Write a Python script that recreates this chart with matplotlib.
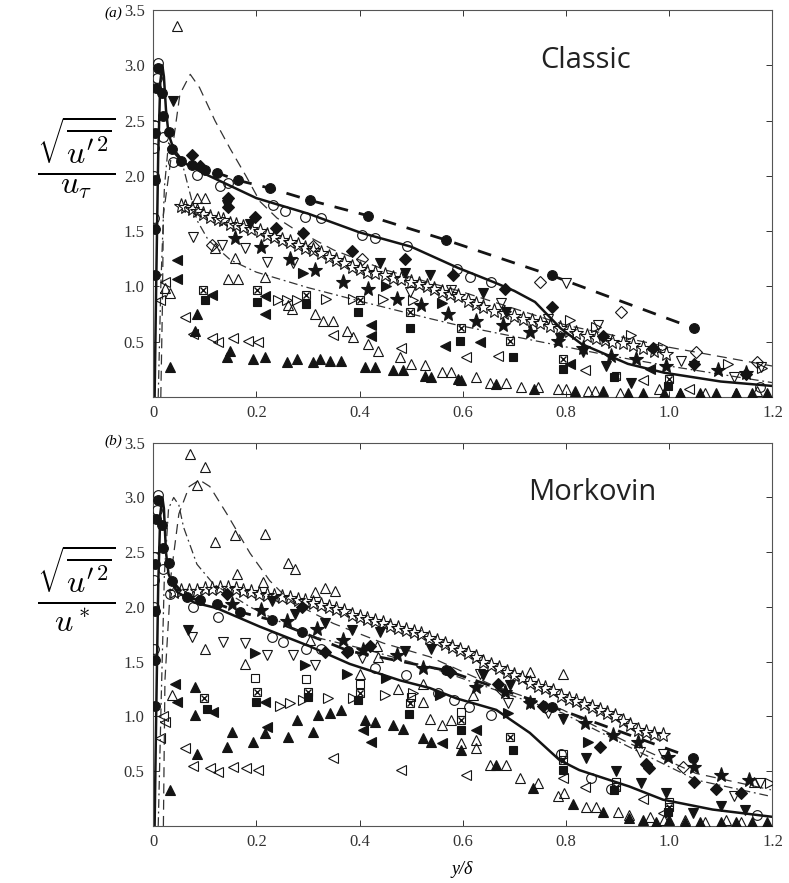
import matplotlib
matplotlib.use("Agg")
import matplotlib.pyplot as plt

# ─────────────────────────────────────────────
# DATA  ((x, y) = (y/delta, rms value))
# ─────────────────────────────────────────────
# panel (a) - classic scaling
A_SOLID = ([0.003, 0.006, 0.010, 0.014, 0.018, 0.021, 0.025, 0.030, 0.040, 0.060, 0.10, 0.15, 0.20, 0.30,
            0.40, 0.50, 0.59, 0.665, 0.70, 0.74, 0.79, 0.83, 0.87, 0.92, 0.99, 1.10, 1.20],
           [0.0, 1.0, 2.2, 2.85, 3.0, 2.9, 2.6, 2.38, 2.24, 2.12, 2.02, 1.91, 1.80, 1.66,
            1.49, 1.36, 1.17, 1.03, 0.96, 0.86, 0.62, 0.48, 0.40, 0.30, 0.22, 0.14, 0.10])
A_THICK_DASH = ([0.036, 0.055, 0.075, 0.101, 0.123, 0.165, 0.226, 0.304, 0.417, 0.568, 0.772, 1.049],
                [2.24, 2.14, 2.10, 2.05, 2.03, 1.96, 1.89, 1.78, 1.64, 1.42, 1.10, 0.62])
A_THIN_DASH = ([0.015, 0.018, 0.020, 0.033, 0.052, 0.072, 0.09, 0.12, 0.149, 0.18, 0.207, 0.24, 0.27,
                0.35, 0.45, 0.60, 0.80, 1.00, 1.20],
               [0.0, 0.8, 1.65, 2.1, 2.74, 2.92, 2.8, 2.5, 2.25, 2.0, 1.77, 1.62, 1.53,
                1.33, 1.15, 0.95, 0.65, 0.45, 0.28])
A_DASHDOT = ([0.010, 0.015, 0.022, 0.030, 0.045, 0.059, 0.085, 0.107, 0.15, 0.20, 0.30, 0.407, 0.536,
              0.59, 0.75, 0.884, 1.00, 1.20],
             [0.0, 1.0, 1.9, 2.3, 2.2, 2.07, 1.6, 1.42, 1.24, 1.13, 0.99, 0.86, 0.71,
              0.65, 0.50, 0.375, 0.28, 0.13])

A_FCIRC = ([0.003, 0.003, 0.003, 0.004, 0.006, 0.010, 0.017, 0.020, 0.030, 0.036, 0.055, 0.075, 0.101,
            0.123, 0.165, 0.226, 0.304, 0.417, 0.568, 0.772, 1.049],
           [1.10, 1.52, 1.96, 2.39, 2.80, 2.98, 2.75, 2.54, 2.40, 2.24, 2.14, 2.10, 2.05,
            2.03, 1.96, 1.89, 1.78, 1.64, 1.42, 1.10, 0.62])
A_OCIRC = ([0.001, 0.001, 0.001, 0.002, 0.007, 0.010, 0.020, 0.039, 0.085, 0.13, 0.146, 0.233, 0.256,
            0.294, 0.326, 0.404, 0.43, 0.492, 0.588, 0.614, 0.655, 1.175],
           [1.62, 2.0, 2.25, 2.46, 2.89, 3.02, 2.35, 2.13, 2.01, 1.91, 1.94, 1.74, 1.68,
            1.63, 1.62, 1.47, 1.44, 1.37, 1.16, 1.09, 1.04, 0.09])
A_OSTAR = ([0.055, 0.062, 0.075, 0.085, 0.097, 0.11, 0.125, 0.135, 0.149, 0.16, 0.175, 0.19, 0.207, 0.22,
            0.235, 0.25, 0.265, 0.28, 0.295, 0.31, 0.325, 0.34, 0.355, 0.37, 0.385, 0.40, 0.415, 0.43,
            0.45, 0.465, 0.48, 0.50, 0.515, 0.53, 0.545, 0.56, 0.575, 0.59, 0.61, 0.625, 0.64, 0.66,
            0.68, 0.70, 0.717, 0.735, 0.75, 0.77, 0.788, 0.805, 0.82, 0.84, 0.859, 0.875, 0.89, 0.91,
            0.93, 0.95, 0.97, 0.994],
           [1.73, 1.72, 1.70, 1.68, 1.66, 1.63, 1.61, 1.60, 1.57, 1.56, 1.54, 1.52, 1.50, 1.47,
            1.45, 1.42, 1.40, 1.38, 1.35, 1.33, 1.30, 1.27, 1.24, 1.21, 1.18, 1.16, 1.13, 1.12,
            1.10, 1.08, 1.07, 1.04, 1.02, 1.00, 0.98, 0.95, 0.93, 0.91, 0.87, 0.84, 0.81, 0.78,
            0.76, 0.73, 0.71, 0.69, 0.67, 0.64, 0.62, 0.60, 0.58, 0.55, 0.53, 0.52, 0.50, 0.49,
            0.47, 0.44, 0.42, 0.39])
A_FSTAR = ([0.159, 0.21, 0.265, 0.314, 0.368, 0.417, 0.472, 0.52, 0.572, 0.626, 0.678, 0.73, 0.784,
            0.833, 0.888, 0.936, 0.994, 1.094, 1.149],
           [1.44, 1.36, 1.25, 1.15, 1.04, 0.98, 0.89, 0.83, 0.755, 0.69, 0.65, 0.59, 0.51,
            0.44, 0.375, 0.345, 0.285, 0.24, 0.22])
A_FDIAM = ([0.075, 0.091, 0.146, 0.146, 0.197, 0.239, 0.291, 0.385, 0.488, 0.581, 0.681, 0.772, 0.872,
            0.968, 1.049, 1.149],
           [2.19, 2.09, 1.80, 1.72, 1.63, 1.53, 1.48, 1.32, 1.25, 1.10, 0.98, 0.815, 0.55,
            0.44, 0.30, 0.21])
A_ODIAM = ([0.114, 0.31, 0.404, 0.749, 0.907, 1.052, 1.171],
           [1.38, 1.37, 1.25, 1.04, 0.77, 0.41, 0.32])
A_FDOWN = ([0.039, 0.143, 0.188, 0.44, 0.488, 0.536, 0.639, 0.684, 0.788, 0.833, 0.878, 0.926, 1.049],
           [2.68, 1.74, 1.57, 1.21, 1.12, 1.10, 0.94, 0.77, 0.53, 0.41, 0.285, 0.13, 0.28])
A_ODOWN = ([0.078, 0.133, 0.178, 0.22, 0.271, 0.497, 0.578, 0.675, 0.765, 0.80, 0.862, 1.023, 1.126, 1.178],
           [1.45, 1.375, 1.35, 1.22, 1.21, 0.95, 0.97, 0.85, 0.71, 1.03, 0.65, 0.33, 0.18, 0.27])
A_ORIGHT = ([0.243, 0.26, 0.278, 0.336, 0.388, 0.446, 0.504, 0.807, 0.859, 0.926, 0.988, 1.113, 1.18],
            [0.875, 0.88, 0.875, 0.89, 0.89, 0.89, 0.88, 0.70, 0.63, 0.56, 0.45, 0.30, 0.26])
A_FRIGHT = ([0.291, 0.452, 0.559],
            [1.12, 1.00, 0.85])
A_FLEFT = ([0.046, 0.046, 0.114, 0.217, 0.217, 0.423, 0.423, 0.565, 0.633, 0.807, 0.962],
           [1.24, 1.07, 0.92, 0.91, 0.755, 0.65, 0.55, 0.465, 0.50, 0.30, 0.25])
A_OLEFT = ([0.014, 0.023, 0.062, 0.078, 0.114, 0.126, 0.155, 0.184, 0.204, 0.349, 0.481, 0.607, 0.668,
            0.836, 0.949, 1.039],
           [0.875, 1.04, 0.72, 0.57, 0.53, 0.50, 0.53, 0.51, 0.50, 0.56, 0.44, 0.36, 0.375,
            0.24, 0.15, 0.07])
A_OUP = ([0.046, 0.085, 0.10, 0.12, 0.159, 0.146, 0.165, 0.217, 0.023, 0.033, 0.262, 0.27, 0.314, 0.33,
          0.349, 0.375, 0.388, 0.417, 0.436, 0.478, 0.50, 0.526, 0.559, 0.578, 0.626, 0.652, 0.684, 0.713,
          0.745, 0.784, 0.80, 0.842, 0.857, 0.904, 0.98, 1.02, 1.07, 1.13, 1.17],
         [3.36, 1.80, 1.80, 1.35, 1.26, 1.07, 1.07, 1.09, 0.99, 0.945, 0.83, 0.80, 0.755, 0.69,
          0.69, 0.60, 0.54, 0.48, 0.42, 0.36, 0.30, 0.29, 0.23, 0.23, 0.18, 0.13, 0.13, 0.09,
          0.09, 0.07, 0.07, 0.05, 0.05, 0.04, 0.07, 0.04, 0.04, 0.04, 0.05])
A_FUP = ([0.033, 0.085, 0.081, 0.149, 0.143, 0.194, 0.217, 0.259, 0.278, 0.31, 0.323, 0.343, 0.365, 0.41,
          0.43, 0.465, 0.484, 0.526, 0.539, 0.591, 0.597, 0.665, 0.739, 0.817, 0.872, 0.92, 0.95, 0.99,
          1.02, 1.06, 1.09, 1.13, 1.16, 1.19],
         [0.27, 0.755, 0.60, 0.42, 0.36, 0.345, 0.36, 0.315, 0.345, 0.315, 0.345, 0.33, 0.33, 0.27,
          0.27, 0.24, 0.24, 0.19, 0.18, 0.165, 0.15, 0.12, 0.07, 0.05, 0.05, 0.04, 0.04, 0.04,
          0.04, 0.04, 0.04, 0.04, 0.04, 0.04])
A_FSQ = ([0.10, 0.201, 0.297, 0.397, 0.497, 0.594, 0.697, 0.794, 0.894, 0.997],
         [0.875, 0.86, 0.845, 0.77, 0.625, 0.505, 0.36, 0.255, 0.18, 0.10])
A_XSQ = ([0.097, 0.201, 0.297, 0.401, 0.497, 0.597, 0.691, 0.794, 0.896, 0.999],
         [0.965, 0.965, 0.92, 0.875, 0.77, 0.62, 0.51, 0.345, 0.19, 0.165])

# panel (b) - Morkovin scaling
B_SOLID = ([0.003, 0.006, 0.010, 0.014, 0.018, 0.021, 0.025, 0.030, 0.046, 0.08, 0.123, 0.207, 0.304,
            0.381, 0.478, 0.536, 0.588, 0.665, 0.73, 0.788, 0.826, 0.923, 0.988, 1.084, 1.197],
           [0.0, 1.0, 2.2, 2.85, 3.0, 2.9, 2.5, 2.3, 2.14, 2.04, 1.99, 1.82, 1.64,
            1.48, 1.33, 1.26, 1.165, 1.06, 0.85, 0.60, 0.51, 0.36, 0.24, 0.15, 0.085])
B_THICK_DASH = ([0.036, 0.065, 0.091, 0.123, 0.168, 0.23, 0.288, 0.378, 0.568, 0.772, 1.046],
                [2.24, 2.09, 2.06, 2.03, 1.955, 1.88, 1.77, 1.60, 1.42, 1.09, 0.62])
B_THIN_DASH = ([0.020, 0.023, 0.035, 0.050, 0.070, 0.090, 0.110, 0.143, 0.188, 0.226, 0.26, 0.30, 0.349,
                0.446, 0.536, 0.665, 0.794, 0.923, 1.052, 1.197],
               [0.0, 1.33, 2.3, 2.85, 3.10, 3.16, 3.10, 2.85, 2.49, 2.24, 2.08, 1.97, 1.85,
                1.67, 1.545, 1.27, 1.06, 0.755, 0.48, 0.33])
B_DASHDOT = ([0.010, 0.016, 0.022, 0.030, 0.040, 0.050, 0.059, 0.085, 0.117, 0.188, 0.30, 0.414, 0.542,
              0.665, 0.794, 0.923, 1.052, 1.197],
             [0.0, 1.2, 2.3, 2.9, 3.0, 2.93, 2.73, 2.39, 2.21, 2.0, 1.74, 1.61, 1.44,
              1.24, 1.03, 0.72, 0.42, 0.27])

B_FCIRC = ([0.003, 0.003, 0.003, 0.004, 0.006, 0.010, 0.017, 0.020, 0.030, 0.036, 0.065, 0.091, 0.123,
            0.168, 0.23, 0.288, 0.378, 0.568, 0.772, 1.046],
           [1.10, 1.52, 1.96, 2.39, 2.80, 2.98, 2.75, 2.54, 2.40, 2.24, 2.09, 2.06, 2.03,
            1.955, 1.88, 1.77, 1.60, 1.42, 1.09, 0.62])
B_OCIRC = ([0.001, 0.001, 0.001, 0.002, 0.007, 0.010, 0.020, 0.033, 0.078, 0.126, 0.23, 0.252, 0.297,
            0.326, 0.43, 0.491, 0.552, 0.584, 0.613, 0.655, 0.791, 0.849, 0.888, 1.171],
           [1.62, 2.0, 2.25, 2.46, 2.89, 3.02, 2.35, 2.12, 2.0, 1.91, 1.73, 1.68, 1.62,
            1.62, 1.44, 1.38, 1.21, 1.15, 1.09, 1.01, 0.66, 0.435, 0.34, 0.10])
B_OSTAR = ([0.04, 0.055, 0.07, 0.085, 0.10, 0.115, 0.13, 0.145, 0.16, 0.175, 0.19, 0.205, 0.22, 0.235,
            0.25, 0.265, 0.28, 0.295, 0.31, 0.325, 0.34, 0.355, 0.37, 0.385, 0.40, 0.415, 0.43, 0.445,
            0.46, 0.475, 0.49, 0.505, 0.52, 0.535, 0.55, 0.565, 0.58, 0.595, 0.61, 0.625, 0.64, 0.655,
            0.67, 0.685, 0.70, 0.715, 0.73, 0.745, 0.76, 0.775, 0.79, 0.805, 0.82, 0.835, 0.85, 0.865,
            0.88, 0.895, 0.91, 0.925, 0.94, 0.955, 0.97, 0.988],
           [2.14, 2.15, 2.15, 2.15, 2.16, 2.16, 2.17, 2.17, 2.16, 2.15, 2.14, 2.12, 2.11, 2.10,
            2.09, 2.08, 2.06, 2.05, 2.04, 2.02, 2.00, 1.98, 1.96, 1.93, 1.91, 1.89, 1.87, 1.85,
            1.83, 1.81, 1.79, 1.77, 1.75, 1.72, 1.69, 1.66, 1.63, 1.61, 1.58, 1.54, 1.50, 1.47,
            1.44, 1.41, 1.38, 1.35, 1.31, 1.28, 1.26, 1.23, 1.19, 1.16, 1.14, 1.11, 1.09, 1.06,
            1.03, 1.00, 0.96, 0.92, 0.88, 0.86, 0.84, 0.83])
B_FSTAR = ([0.152, 0.21, 0.259, 0.317, 0.368, 0.407, 0.472, 0.523, 0.626, 0.681, 0.73, 0.836, 0.891,
            0.939, 0.997, 1.049, 1.10, 1.155],
           [2.03, 1.97, 1.87, 1.80, 1.70, 1.61, 1.56, 1.44, 1.27, 1.225, 1.12, 0.94, 0.83,
            0.77, 0.63, 0.54, 0.465, 0.42])
B_FDIAM = ([0.143, 0.288, 0.333, 0.375, 0.42, 0.575, 0.668, 0.755, 0.865, 0.955, 0.96, 1.049, 1.091, 1.139],
           [2.12, 2.00, 1.59, 1.59, 1.64, 1.41, 1.30, 1.10, 0.72, 0.57, 0.53, 0.40, 0.34, 0.30])
B_ODIAM = ([0.675, 0.759, 1.026],
           [1.255, 1.09, 0.54])
B_FDOWN = ([0.068, 0.23, 0.275, 0.333, 0.385, 0.44, 0.488, 0.539, 0.639, 0.691, 0.73, 0.794, 0.839,
            0.897, 0.946, 0.994, 1.046, 1.101, 1.146],
           [1.79, 2.05, 1.94, 1.85, 1.79, 1.77, 1.60, 1.62, 1.38, 1.29, 1.12, 0.98, 0.62,
            0.50, 0.39, 0.30, 0.12, 0.18, 0.15])
B_ODOWN = ([0.075, 0.136, 0.178, 0.22, 0.271, 0.314, 0.404, 0.633, 0.688, 0.765, 0.943, 0.988, 1.126, 1.175],
           [1.73, 1.68, 1.67, 1.56, 1.56, 1.47, 1.53, 1.39, 1.12, 1.03, 0.68, 0.66, 0.27, 0.39])
B_FRIGHT = ([0.197, 0.294, 0.375, 0.452, 0.555, 0.688, 0.843],
            [1.58, 1.47, 1.39, 1.35, 1.20, 1.03, 0.77])
B_ORIGHT = ([0.246, 0.265, 0.291, 0.339, 0.388, 0.449, 0.504, 1.195],
            [1.10, 1.12, 1.15, 1.17, 1.17, 1.195, 1.21, 0.39])
B_FLEFT = ([0.043, 0.046, 0.117, 0.217, 0.22, 0.407, 0.423, 0.559, 0.626],
           [1.30, 1.13, 1.04, 1.13, 0.905, 0.875, 0.77, 0.755, 0.875])
B_OLEFT = ([0.02, 0.023, 0.014, 0.062, 0.078, 0.11, 0.126, 0.155, 0.181, 0.204, 0.349, 0.481, 0.607,
            0.794, 0.836, 0.949, 0.988],
           [1.0, 0.95, 0.80, 0.71, 0.55, 0.525, 0.495, 0.54, 0.525, 0.51, 0.62, 0.51, 0.465,
            0.435, 0.36, 0.25, 0.115])
B_OUP = ([0.072, 0.10, 0.085, 0.12, 0.159, 0.217, 0.162, 0.213, 0.262, 0.275, 0.314, 0.333, 0.352, 0.10,
          0.178, 0.036, 0.304, 0.40, 0.433, 0.436, 0.475, 0.523, 0.523, 0.536, 0.559, 0.578, 0.62, 0.597,
          0.626, 0.626, 0.652, 0.684, 0.71, 0.745, 0.73, 0.794, 0.784, 0.797, 0.839, 0.859, 0.90, 0.923,
          0.962, 0.99, 1.03, 1.07, 1.11, 1.14, 1.165],
         [3.40, 3.28, 3.11, 2.59, 2.655, 2.67, 2.30, 2.23, 2.40, 2.35, 2.14, 2.17, 2.15, 1.62,
          1.48, 1.20, 1.70, 1.39, 1.64, 1.54, 1.255, 1.30, 1.135, 0.98, 0.92, 0.97, 1.195, 0.755,
          0.785, 0.71, 0.555, 0.555, 0.435, 0.39, 1.41, 1.39, 0.27, 0.30, 0.175, 0.175, 0.13, 0.10,
          0.085, 0.05, 0.05, 0.04, 0.05, 0.04, 0.40])
B_FUP = ([0.033, 0.085, 0.081, 0.081, 0.152, 0.143, 0.194, 0.217, 0.262, 0.278, 0.31, 0.32, 0.343, 0.365,
          0.41, 0.43, 0.465, 0.484, 0.523, 0.539, 0.597, 0.665, 0.736, 0.813, 0.872, 0.923, 0.95, 0.975,
          1.0, 1.03, 1.06, 1.10, 1.13, 1.16, 1.19],
         [0.33, 0.66, 1.01, 1.27, 0.86, 0.72, 0.77, 0.845, 0.815, 0.97, 0.86, 1.01, 1.03, 1.06,
          0.97, 0.95, 0.92, 0.89, 0.80, 0.77, 0.69, 0.555, 0.345, 0.205, 0.13, 0.07, 0.05, 0.04,
          0.05, 0.04, 0.04, 0.04, 0.04, 0.04, 0.04])
B_FSQ = ([0.104, 0.199, 0.30, 0.397, 0.496, 0.597, 0.697, 0.794, 0.894, 0.997],
         [1.07, 1.13, 1.18, 1.15, 1.02, 0.875, 0.69, 0.51, 0.33, 0.13])
B_XSQ = ([0.099, 0.201, 0.30, 0.401, 0.497, 0.597, 0.691, 0.794, 0.897, 1.0],
         [1.17, 1.225, 1.225, 1.215, 1.12, 0.97, 0.815, 0.60, 0.36, 0.175])
B_OSQ = ([0.197, 0.297, 0.40, 0.50, 0.597, 0.794, 0.897, 1.0],
         [1.355, 1.34, 1.30, 1.18, 1.04, 0.66, 0.40, 0.22])

X_TICKS = [0, 0.2, 0.4, 0.6, 0.8, 1.0, 1.2]
X_LABELS = ["0", "0.2", "0.4", "0.6", "0.8", "1.0", "1.2"]
Y_TICKS = [0.5, 1.0, 1.5, 2.0, 2.5, 3.0, 3.5]
Y_LABELS = ["0.5", "1.0", "1.5", "2.0", "2.5", "3.0", "3.5"]

# ─────────────────────────────────────────────
# STYLE
# ─────────────────────────────────────────────
INK = "#141414"
SERIF = "Liberation Serif"
plt.rcParams["mathtext.fontset"] = "cm"


def pts(ax, s, marker, filled, ms=7.5):
    ax.plot(s[0], s[1], ls="none", marker=marker, ms=ms, mec=INK,
            mfc=INK if filled else "none", mew=0.8, zorder=3)


def crossed(ax, s, ms=6):
    ax.plot(s[0], s[1], ls="none", marker="s", ms=ms, mec=INK, mfc="none", mew=0.8, zorder=3)
    ax.plot(s[0], s[1], ls="none", marker="x", ms=ms * 0.65, mec=INK, mew=1.0, zorder=3)


def style_axes(ax):
    ax.set_xlim(0, 1.2)
    ax.set_ylim(0, 3.5)
    ax.set_xticks(X_TICKS)
    ax.set_xticklabels(X_LABELS, family=SERIF, fontsize=12)
    ax.set_yticks(Y_TICKS)
    ax.set_yticklabels(Y_LABELS, family=SERIF, fontsize=12)
    ax.tick_params(direction="in", top=True, right=True, length=4, width=0.7,
                   pad=6, colors="#333")
    for sp in ax.spines.values():
        sp.set_linewidth(0.8)
        sp.set_color("#555")


def draw_lines(ax, solid, thick, thin, dashdot):
    ax.plot(solid[0], solid[1], color=INK, lw=1.8, zorder=2)
    ax.plot(thick[0], thick[1], color=INK, lw=2.0, dashes=(5, 4), zorder=2)
    ax.plot(thin[0], thin[1], color="#333", lw=0.9, dashes=(8, 5), zorder=2)
    ax.plot(dashdot[0], dashdot[1], color="#333", lw=0.9, dashes=(7, 3, 1.5, 3), zorder=2)


fig = plt.figure(figsize=(7.89, 8.83), dpi=100, facecolor="white")
ax_a = fig.add_axes([0.194, 0.5504, 0.785, 0.438])
ax_b = fig.add_axes([0.194, 0.0646, 0.785, 0.434])

# ── panel (a) ───────────────────────────────
draw_lines(ax_a, A_SOLID, A_THICK_DASH, A_THIN_DASH, A_DASHDOT)
pts(ax_a, A_OSTAR, "*", False, 11)
pts(ax_a, A_FSTAR, "*", True, 11)
pts(ax_a, A_FCIRC, "o", True, 7)
pts(ax_a, A_OCIRC, "o", False, 7)
pts(ax_a, A_FDIAM, "D", True, 6)
pts(ax_a, A_ODIAM, "D", False, 6)
pts(ax_a, A_FDOWN, "v", True)
pts(ax_a, A_ODOWN, "v", False)
pts(ax_a, A_FRIGHT, ">", True)
pts(ax_a, A_ORIGHT, ">", False)
pts(ax_a, A_FLEFT, "<", True)
pts(ax_a, A_OLEFT, "<", False)
pts(ax_a, A_OUP, "^", False)
pts(ax_a, A_FUP, "^", True)
pts(ax_a, A_FSQ, "s", True, 6)
crossed(ax_a, A_XSQ)
style_axes(ax_a)

# ── panel (b) ───────────────────────────────
draw_lines(ax_b, B_SOLID, B_THICK_DASH, B_THIN_DASH, B_DASHDOT)
pts(ax_b, B_OSTAR, "*", False, 11)
pts(ax_b, B_FSTAR, "*", True, 11)
pts(ax_b, B_FCIRC, "o", True, 7)
pts(ax_b, B_OCIRC, "o", False, 7)
pts(ax_b, B_FDIAM, "D", True, 6)
pts(ax_b, B_ODIAM, "D", False, 6)
pts(ax_b, B_FDOWN, "v", True)
pts(ax_b, B_ODOWN, "v", False)
pts(ax_b, B_FRIGHT, ">", True)
pts(ax_b, B_ORIGHT, ">", False)
pts(ax_b, B_FLEFT, "<", True)
pts(ax_b, B_OLEFT, "<", False)
pts(ax_b, B_OUP, "^", False)
pts(ax_b, B_FUP, "^", True)
pts(ax_b, B_FSQ, "s", True, 6)
pts(ax_b, B_OSQ, "s", False, 6)
crossed(ax_b, B_XSQ)
style_axes(ax_b)

# ── annotations ─────────────────────────────
fig.text(76 / 789, 1 - 158 / 883, r"$\frac{\sqrt{\overline{u'^2}}}{u_\tau}$",
         fontsize=33, ha="center", va="center")
fig.text(76 / 789, 1 - 588 / 883, r"$\frac{\sqrt{\overline{u'^2}}}{u^*}$",
         fontsize=33, ha="center", va="center")
fig.text(113 / 789, 1 - 13 / 883, "(a)", family=SERIF, style="italic",
         fontsize=11, ha="center", va="center")
fig.text(113 / 789, 1 - 441 / 883, "(b)", family=SERIF, style="italic",
         fontsize=11, ha="center", va="center")
fig.text(586 / 789, 1 - 60 / 883, "Classic", family="Open Sans",
         fontsize=21, ha="center", va="center", color="#222")
fig.text(592 / 789, 1 - 493 / 883, "Morkovin", family="Open Sans",
         fontsize=21, ha="center", va="center", color="#222")
fig.text(462 / 789, 1 - 870 / 883, "y/δ", family=SERIF, style="italic",
         fontsize=13, ha="center", va="center")

fig.savefig("out.png", dpi=100, facecolor="white")
